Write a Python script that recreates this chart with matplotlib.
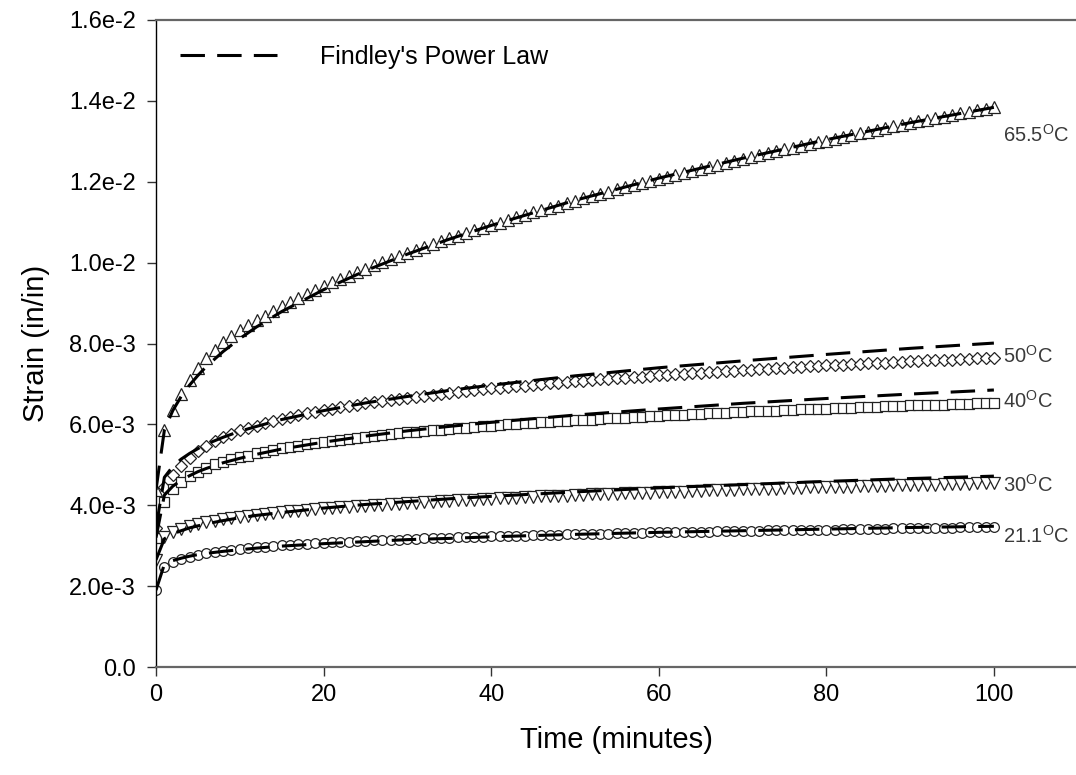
import numpy as np
import matplotlib
matplotlib.use("Agg")
import matplotlib.pyplot as plt

plt.rcParams['font.family'] = ['Liberation Sans', 'DejaVu Sans']
plt.rcParams['mathtext.fontset'] = 'custom'
plt.rcParams['mathtext.rm'] = 'Liberation Sans'

# one creep reading per minute
time_min = np.arange(0, 101)

# measured strain, in 1e-3 in/in
strain_655 = [4.38, 5.86, 6.35, 6.75, 7.10, 7.40, 7.64, 7.85, 8.03, 8.18, 8.33,
              8.45, 8.57, 8.69, 8.80, 8.92, 9.02, 9.12, 9.22, 9.32, 9.42,
              9.51, 9.59, 9.68, 9.76, 9.85, 9.93, 10.01, 10.08, 10.16, 10.24,
              10.31, 10.38, 10.46, 10.53, 10.60, 10.67, 10.73, 10.80, 10.86, 10.93,
              10.99, 11.05, 11.12, 11.18, 11.24, 11.30, 11.36, 11.41, 11.47, 11.53,
              11.59, 11.64, 11.70, 11.75, 11.81, 11.86, 11.91, 11.97, 12.02, 12.07,
              12.12, 12.17, 12.22, 12.27, 12.32, 12.37, 12.42, 12.46, 12.51, 12.56,
              12.61, 12.66, 12.70, 12.75, 12.80, 12.84, 12.89, 12.93, 12.98, 13.02,
              13.06, 13.11, 13.15, 13.20, 13.24, 13.28, 13.32, 13.37, 13.41, 13.45,
              13.49, 13.53, 13.57, 13.61, 13.65, 13.69, 13.73, 13.77, 13.81, 13.85]
strain_50 = [3.44, 4.45, 4.75, 4.98, 5.17, 5.33, 5.47, 5.58, 5.68, 5.77, 5.86,
             5.92, 5.97, 6.03, 6.08, 6.14, 6.18, 6.22, 6.27, 6.31, 6.35,
             6.38, 6.42, 6.45, 6.49, 6.52, 6.55, 6.58, 6.60, 6.63, 6.66,
             6.68, 6.71, 6.73, 6.76, 6.78, 6.80, 6.82, 6.85, 6.87, 6.89,
             6.91, 6.93, 6.94, 6.96, 6.98, 7.00, 7.02, 7.03, 7.05, 7.07,
             7.08, 7.10, 7.11, 7.13, 7.14, 7.15, 7.17, 7.18, 7.20, 7.21,
             7.22, 7.24, 7.25, 7.27, 7.28, 7.29, 7.30, 7.32, 7.33, 7.34,
             7.35, 7.36, 7.38, 7.39, 7.40, 7.41, 7.42, 7.44, 7.45, 7.46,
             7.47, 7.48, 7.49, 7.50, 7.51, 7.52, 7.53, 7.54, 7.55, 7.56,
             7.57, 7.58, 7.58, 7.59, 7.60, 7.61, 7.62, 7.63, 7.64, 7.65]
strain_40 = [3.20, 4.08, 4.39, 4.58, 4.72, 4.83, 4.93, 5.01, 5.07, 5.14, 5.19,
             5.23, 5.28, 5.32, 5.37, 5.41, 5.44, 5.47, 5.51, 5.54, 5.57,
             5.59, 5.62, 5.64, 5.67, 5.69, 5.71, 5.73, 5.76, 5.78, 5.80,
             5.82, 5.84, 5.85, 5.87, 5.89, 5.91, 5.92, 5.94, 5.95, 5.97,
             5.98, 6.00, 6.01, 6.03, 6.04, 6.05, 6.06, 6.08, 6.09, 6.10,
             6.11, 6.12, 6.14, 6.15, 6.16, 6.17, 6.18, 6.19, 6.20, 6.21,
             6.22, 6.23, 6.24, 6.25, 6.26, 6.27, 6.28, 6.29, 6.30, 6.31,
             6.32, 6.33, 6.33, 6.34, 6.35, 6.36, 6.37, 6.37, 6.38, 6.39,
             6.40, 6.41, 6.41, 6.42, 6.43, 6.44, 6.45, 6.45, 6.46, 6.47,
             6.48, 6.48, 6.49, 6.49, 6.50, 6.51, 6.51, 6.52, 6.52, 6.53]
strain_30 = [2.65, 3.22, 3.34, 3.42, 3.48, 3.53, 3.58, 3.62, 3.65, 3.68, 3.71,
             3.73, 3.76, 3.78, 3.81, 3.83, 3.85, 3.87, 3.88, 3.90, 3.92,
             3.93, 3.95, 3.96, 3.98, 3.99, 4.00, 4.01, 4.03, 4.04, 4.05,
             4.06, 4.07, 4.09, 4.10, 4.11, 4.12, 4.13, 4.14, 4.15, 4.16,
             4.17, 4.18, 4.19, 4.20, 4.21, 4.22, 4.23, 4.23, 4.24, 4.25,
             4.26, 4.27, 4.27, 4.28, 4.29, 4.30, 4.30, 4.31, 4.31, 4.32,
             4.33, 4.34, 4.34, 4.35, 4.36, 4.37, 4.37, 4.38, 4.38, 4.39,
             4.40, 4.40, 4.41, 4.41, 4.42, 4.43, 4.43, 4.44, 4.44, 4.45,
             4.45, 4.46, 4.46, 4.47, 4.47, 4.48, 4.48, 4.49, 4.49, 4.50,
             4.50, 4.51, 4.51, 4.52, 4.52, 4.53, 4.53, 4.54, 4.54, 4.55]
strain_211 = [1.90, 2.47, 2.60, 2.67, 2.73, 2.77, 2.81, 2.84, 2.87, 2.90, 2.92,
              2.94, 2.96, 2.97, 2.99, 3.01, 3.02, 3.04, 3.05, 3.06, 3.07,
              3.08, 3.09, 3.10, 3.11, 3.12, 3.13, 3.14, 3.14, 3.15, 3.16,
              3.17, 3.18, 3.18, 3.19, 3.20, 3.21, 3.21, 3.22, 3.22, 3.23,
              3.24, 3.24, 3.25, 3.25, 3.26, 3.26, 3.27, 3.27, 3.28, 3.28,
              3.29, 3.29, 3.30, 3.30, 3.31, 3.31, 3.32, 3.32, 3.33, 3.33,
              3.33, 3.34, 3.34, 3.35, 3.35, 3.35, 3.36, 3.36, 3.37, 3.37,
              3.37, 3.37, 3.38, 3.38, 3.38, 3.38, 3.39, 3.39, 3.40, 3.40,
              3.40, 3.41, 3.41, 3.42, 3.42, 3.42, 3.42, 3.43, 3.43, 3.43,
              3.43, 3.44, 3.44, 3.44, 3.44, 3.45, 3.45, 3.45, 3.46, 3.46]

# Findley power law curves, in 1e-3 in/in
fit_time = [0, 1, 2, 3, 4, 5, 6, 8, 10, 12, 15, 20, 25, 30, 35, 40, 50, 60, 70, 80, 90, 100]
fit_655 = [4.38, 5.86, 6.34, 6.69, 6.97, 7.21, 7.43, 7.80, 8.12, 8.41, 8.79,
           9.33, 9.80, 10.21, 10.58, 10.92, 11.54, 12.09, 12.58, 13.04, 13.46, 13.84]
fit_50 = [3.44, 4.69, 4.96, 5.14, 5.28, 5.40, 5.51, 5.68, 5.83, 5.95, 6.12,
          6.34, 6.53, 6.69, 6.84, 6.97, 7.20, 7.40, 7.57, 7.73, 7.88, 8.01]
fit_40 = [3.20, 4.25, 4.47, 4.62, 4.73, 4.83, 4.91, 5.05, 5.16, 5.26, 5.39,
          5.56, 5.71, 5.84, 5.95, 6.05, 6.23, 6.38, 6.52, 6.64, 6.75, 6.85]
fit_30 = [2.65, 3.17, 3.29, 3.37, 3.44, 3.49, 3.54, 3.62, 3.69, 3.75, 3.82,
          3.93, 4.02, 4.09, 4.16, 4.22, 4.33, 4.43, 4.51, 4.59, 4.66, 4.72]
fit_211 = [1.90, 2.54, 2.63, 2.69, 2.74, 2.78, 2.81, 2.86, 2.90, 2.94, 2.99,
           3.05, 3.10, 3.15, 3.18, 3.22, 3.28, 3.33, 3.37, 3.41, 3.45, 3.48]

temp_labels = ["65.5", "50", "40", "30", "21.1"]
label_y = [12.99, 7.515, 6.40, 4.33, 3.065]   # baseline of the right hand labels
y_ticks = [0, 2, 4, 6, 8, 10, 12, 14, 16]
y_ticklabels = ["0.0", "2.0e-3", "4.0e-3", "6.0e-3", "8.0e-3",
                "1.0e-2", "1.2e-2", "1.4e-2", "1.6e-2"]
x_ticks = [0, 20, 40, 60, 80, 100]

series = [strain_655, strain_50, strain_40, strain_30, strain_211]
fits = [fit_655, fit_50, fit_40, fit_30, fit_211]
markers = ['^', 'D', 's', 'v', 'o']
msizes = [8, 6.5, 7, 8, 7]

fig = plt.figure(figsize=(10.76, 7.75), dpi=100)
ax = fig.add_axes([156/1076, 1 - 667/775, 920/1076, 647/775])

for s, m, ms in zip(series, markers, msizes):
    ax.plot(time_min, np.array(s) * 1e-3, linestyle='none', marker=m, ms=ms,
            mfc='white', mec='#222222', mew=0.9, zorder=2)

for i, f in enumerate(fits):
    ax.plot(fit_time, np.array(f) * 1e-3, color='black', lw=2.2,
            linestyle=(0, (8, 4)), zorder=3,
            label="Findley's Power Law" if i == 0 else None)

# temperature tags at the right end of each curve
for name, yb in zip(temp_labels, label_y):
    ax.text(101.1, yb * 1e-3, name + r"$^{\mathrm{O}}$C", fontsize=14.5,
            color='#3a3a3a', ha='left', va='baseline', clip_on=False)

ax.set_xlim(0, 109.8)
ax.set_ylim(0, 0.016)
ax.set_xticks(x_ticks)
ax.set_yticks(np.array(y_ticks) * 1e-3)
ax.set_yticklabels(y_ticklabels)

ax.spines['right'].set_visible(False)
ax.spines['left'].set_color('black')
ax.spines['left'].set_linewidth(1.0)
for side in ['top', 'bottom']:
    ax.spines[side].set_color('#666666')
    ax.spines[side].set_linewidth(1.6)

ax.tick_params(axis='both', direction='out', length=6.5, width=1.0,
               labelsize=17, color='#333333')
ax.tick_params(axis='y', pad=8)
ax.tick_params(axis='x', pad=6)

ax.set_xlabel("Time (minutes)", fontsize=21, labelpad=14)
ax.set_ylabel("Strain (in/in)", fontsize=21, labelpad=14)

leg = ax.legend(loc='upper left', bbox_to_anchor=(0.026, 0.962), frameon=False,
                fontsize=18, handlelength=3.9, handletextpad=1.7,
                borderpad=0, borderaxespad=0)

fig.savefig("out.png", dpi=100)
